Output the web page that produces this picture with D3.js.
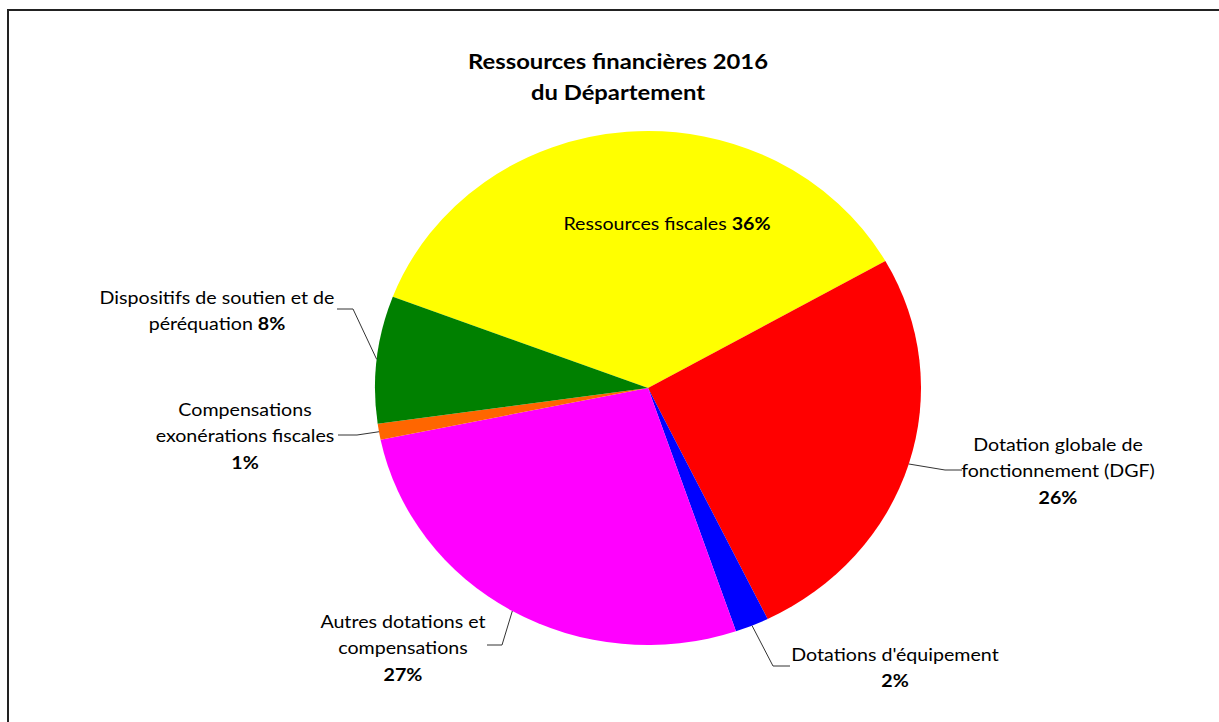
<!DOCTYPE html>
<html>
<head>
<meta charset="utf-8">
<script src="https://cdn.jsdelivr.net/npm/d3@7"></script>
<style>
  html, body { margin: 0; padding: 0; background: #fff; }
  svg { display: block; }
  text { font-family: Lato, "Open Sans", sans-serif; fill: #000; }
</style>
</head>
<body>
<svg id="chart" width="1219" height="722"></svg>
<script>
// Répartition des ressources financières 2016 (en %)
const categories = [
  "Ressources fiscales",
  "Dotation globale de fonctionnement (DGF)",
  "Dotations d'équipement",
  "Autres dotations et compensations",
  "Compensations exonérations fiscales",
  "Dispositifs de soutien et de péréquation"
];
const values = [36, 26, 2, 27, 1, 8];
const colors = ["#FFFF00", "#FF0000", "#0000FF", "#FF00FF", "#FF6600", "#008000"];

// Label text broken into lines; "%" marks where the bold percentage goes
const labelLines = [
  ["Ressources fiscales %"],
  ["Dotation globale de", "fonctionnement (DGF)", "%"],
  ["Dotations d'équipement", "%"],
  ["Autres dotations et", "compensations", "%"],
  ["Compensations", "exonérations fiscales", "%"],
  ["Dispositifs de soutien et de", "péréquation %"]
];
const titleLines = ["Ressources financières 2016", "du Département"];

// ---- layout ----
const W = 1219, H = 722;
const cx = 648, cy = 388;
const rx = 273, ry = 257;
const startAngle = -69.2 * Math.PI / 180;
const lineH = 26.5;
const textStretch = 1.19;   // horizontal stretch applied to all text

// label anchor (x centre, first baseline), leader elbow and leader end
const labelLayout = [
  { x: 667, y: 230 },
  { x: 1058, y: 451, elbow: [945, 470], end: [962, 470] },
  { x: 895, y: 661, elbow: [773, 666], end: [790, 666] },
  { x: 403, y: 628, elbow: [502, 645], end: [487, 645] },
  { x: 245, y: 416, elbow: [357, 435], end: [338, 435] },
  { x: 217, y: 304, elbow: [353, 309], end: [337, 309] }
];

const svg = d3.select("#chart");

// chart area frame
svg.append("rect")
  .attr("x", 8).attr("y", 10)
  .attr("width", W + 20).attr("height", H + 20)
  .attr("fill", "#fff")
  .attr("stroke", "#222").attr("stroke-width", 2);

// title
svg.append("g")
  .attr("transform", `translate(618,0) scale(${textStretch},1)`)
  .append("text")
  .attr("text-anchor", "middle")
  .attr("font-weight", "bold")
  .attr("font-size", 20)
  .selectAll("tspan")
  .data(titleLines)
  .join("tspan")
  .attr("x", 0)
  .attr("y", (d, i) => 69 + i * 31)
  .text(d => d);

const data = categories.map((c, i) => ({ name: c, value: values[i], color: colors[i], lines: labelLines[i], layout: labelLayout[i] }));

const pie = d3.pie()
  .value(d => d.value)
  .sort(null)
  .startAngle(startAngle)
  .endAngle(startAngle + 2 * Math.PI);

const arcs = pie(data);

const arc = d3.arc().innerRadius(0).outerRadius(ry);

// pie is drawn on a circle then stretched horizontally into an ellipse
const g = svg.append("g")
  .attr("transform", `translate(${cx},${cy}) scale(${rx / ry},1)`);

g.selectAll("path")
  .data(arcs)
  .join("path")
  .attr("d", arc)
  .attr("fill", d => d.data.color);

// point on the ellipse edge at a slice's mid angle
function edgePoint(a) {
  const m = (a.startAngle + a.endAngle) / 2;
  return [cx + rx * Math.sin(m), cy - ry * Math.cos(m)];
}

// leader lines
arcs.forEach(a => {
  const L = a.data.layout;
  if (!L.elbow) return;
  const p = edgePoint(a);
  svg.append("polyline")
    .attr("points", [p, L.elbow, L.end].map(q => q.join(",")).join(" "))
    .attr("fill", "none")
    .attr("stroke", "#333")
    .attr("stroke-width", 1);
});

// labels
arcs.forEach(a => {
  const L = a.data.layout;
  const pct = a.data.value + "%";
  const t = svg.append("g")
    .attr("transform", `translate(${L.x},0) scale(${textStretch},1)`)
    .append("text")
    .attr("text-anchor", "middle")
    .attr("font-size", 16.5);
  a.data.lines.forEach((line, i) => {
    const parts = line.split("%");
    const ts = t.append("tspan").attr("x", 0).attr("y", L.y + i * lineH);
    if (parts.length === 1) { ts.text(line); return; }
    if (parts[0]) ts.text(parts[0]);
    const b = parts[0] ? t.append("tspan") : ts;
    b.attr("font-weight", "bold").text(pct);
    if (parts[1]) t.append("tspan").text(parts[1]);
  });
});
</script>
</body>
</html>
